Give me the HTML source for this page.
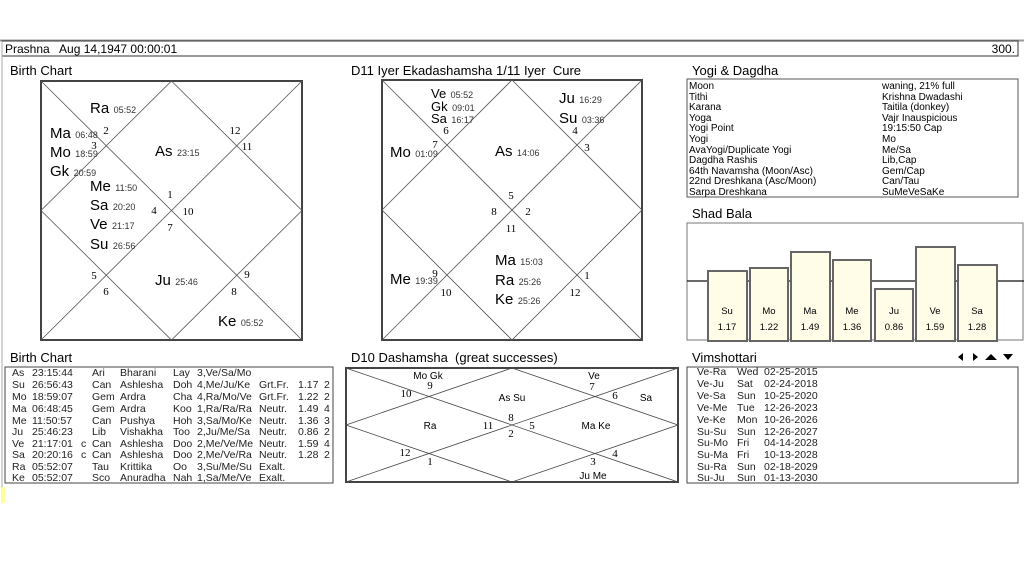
<!DOCTYPE html>
<html><head><meta charset="utf-8"><style>
html,body{margin:0;padding:0;background:#fff;}
svg{display:block;font-family:"Liberation Sans",sans-serif;}
text{white-space:pre;}
.t{font-size:13px;fill:#000;}
.pl{font-size:15px;}
.dg{font-size:9px;fill:#333;}
.n{font-family:"Liberation Serif",serif;font-size:11px;}
.s{font-size:10px;}
.r{font-size:10.5px;fill:#222;}
</style></head><body>
<svg width="1024" height="576" viewBox="0 0 1024 576" xml:space="preserve">
<rect width="1024" height="576" fill="#fff"/>
<line x1="0" y1="40.5" x2="1024" y2="40.5" stroke="#999" stroke-width="2"/>
<rect x="2" y="41" width="1016" height="15" fill="#fff" stroke="#333" stroke-width="1"/>
<line x1="2" y1="41" x2="2" y2="500" stroke="#aaa" stroke-width="1"/>
<rect x="1" y="487" width="4" height="16" fill="#ffff99"/>
<text x="5" y="53" font-size="12">Prashna   Aug 14,1947 00:00:01</text>
<text x="1015" y="53" font-size="12" text-anchor="end">300.</text>

<text x="10" y="75" class="t">Birth Chart</text>
<rect x="41" y="81" width="261" height="259" fill="none" stroke="#444" stroke-width="2"/>
<g stroke="#555" stroke-width="0.8" fill="none">
<line x1="41" y1="81" x2="302" y2="340"/><line x1="302" y1="81" x2="41" y2="340"/>
<polygon points="171.5,81 302,210.5 171.5,340 41,210.5"/>
</g>
<g>
<text x="90" y="113"><tspan class="pl">Ra</tspan> <tspan class="dg">05:52</tspan></text>
<text x="50" y="138"><tspan class="pl">Ma</tspan> <tspan class="dg">06:48</tspan></text>
<text x="50" y="157"><tspan class="pl">Mo</tspan> <tspan class="dg">18:59</tspan></text>
<text x="50" y="176"><tspan class="pl">Gk</tspan> <tspan class="dg">20:59</tspan></text>
<text x="90" y="191"><tspan class="pl">Me</tspan> <tspan class="dg">11:50</tspan></text>
<text x="90" y="210"><tspan class="pl">Sa</tspan> <tspan class="dg">20:20</tspan></text>
<text x="90" y="229"><tspan class="pl">Ve</tspan> <tspan class="dg">21:17</tspan></text>
<text x="90" y="249"><tspan class="pl">Su</tspan> <tspan class="dg">26:56</tspan></text>
<text x="155" y="156"><tspan class="pl">As</tspan> <tspan class="dg">23:15</tspan></text>
<text x="155" y="285"><tspan class="pl">Ju</tspan> <tspan class="dg">25:46</tspan></text>
<text x="218" y="326"><tspan class="pl">Ke</tspan> <tspan class="dg">05:52</tspan></text>
</g>
<g class="n" text-anchor="middle">
<text x="106" y="134">2</text><text x="94" y="149">3</text><text x="235" y="134">12</text><text x="247" y="150">11</text>
<text x="170" y="198">1</text><text x="154" y="214">4</text><text x="188" y="215">10</text><text x="170" y="231">7</text>
<text x="94" y="279">5</text><text x="106" y="295">6</text><text x="247" y="278">9</text><text x="234" y="295">8</text>
</g>

<text x="351" y="75" class="t">D11 Iyer Ekadashamsha 1/11 Iyer  Cure</text>
<rect x="382" y="80" width="260" height="260" fill="none" stroke="#444" stroke-width="2"/>
<g stroke="#555" stroke-width="0.8" fill="none">
<line x1="382" y1="80" x2="642" y2="340"/><line x1="642" y1="80" x2="382" y2="340"/>
<polygon points="512,80 642,210 512,340 382,210"/>
</g>
<text x="431" y="98"><tspan font-size="13">Ve</tspan> <tspan class="dg">05:52</tspan></text>
<text x="431" y="111"><tspan font-size="13">Gk</tspan> <tspan class="dg">09:01</tspan></text>
<text x="431" y="123"><tspan font-size="13">Sa</tspan> <tspan class="dg">16:17</tspan></text>
<text x="390" y="157"><tspan class="pl">Mo</tspan> <tspan class="dg">01:09</tspan></text>
<text x="495" y="156"><tspan class="pl">As</tspan> <tspan class="dg">14:06</tspan></text>
<text x="559" y="103"><tspan class="pl">Ju</tspan> <tspan class="dg">16:29</tspan></text>
<text x="559" y="123"><tspan class="pl">Su</tspan> <tspan class="dg">03:36</tspan></text>
<text x="495" y="265"><tspan class="pl">Ma</tspan> <tspan class="dg">15:03</tspan></text>
<text x="495" y="285"><tspan class="pl">Ra</tspan> <tspan class="dg">25:26</tspan></text>
<text x="495" y="304"><tspan class="pl">Ke</tspan> <tspan class="dg">25:26</tspan></text>
<text x="390" y="284"><tspan class="pl">Me</tspan> <tspan class="dg">19:39</tspan></text>
<g class="n" text-anchor="middle">
<text x="446" y="134">6</text><text x="435" y="148">7</text><text x="575" y="134">4</text><text x="587" y="151">3</text>
<text x="511" y="199">5</text><text x="494" y="215">8</text><text x="528" y="215">2</text><text x="511" y="232">11</text>
<text x="435" y="277">9</text><text x="446" y="296">10</text><text x="587" y="279">1</text><text x="575" y="296">12</text>
</g>

<text x="692" y="75" class="t">Yogi &amp; Dagdha</text>
<rect x="687" y="79" width="331" height="118" fill="none" stroke="#555" stroke-width="1"/>
<g class="s">
<text x="689" y="89">Moon</text><text x="882" y="89">waning, 21% full</text>
<text x="689" y="100">Tithi</text><text x="882" y="100">Krishna Dwadashi</text>
<text x="689" y="110">Karana</text><text x="882" y="110">Taitila (donkey)</text>
<text x="689" y="121">Yoga</text><text x="882" y="121">Vajr Inauspicious</text>
<text x="689" y="131">Yogi Point</text><text x="882" y="131">19:15:50 Cap</text>
<text x="689" y="142">Yogi</text><text x="882" y="142">Mo</text>
<text x="689" y="153">AvaYogi/Duplicate Yogi</text><text x="882" y="153">Me/Sa</text>
<text x="689" y="163">Dagdha Rashis</text><text x="882" y="163">Lib,Cap</text>
<text x="689" y="174">64th Navamsha (Moon/Asc)</text><text x="882" y="174">Gem/Cap</text>
<text x="689" y="184">22nd Dreshkana (Asc/Moon)</text><text x="882" y="184">Can/Tau</text>
<text x="689" y="195">Sarpa Dreshkana</text><text x="882" y="195">SuMeVeSaKe</text>
</g>

<text x="692" y="218" class="t">Shad Bala</text>
<rect x="687" y="223" width="336" height="117" fill="none" stroke="#777" stroke-width="1"/>
<line x1="687" y1="281" x2="1024" y2="281" stroke="#111" stroke-width="1.2"/>
<g fill="#fffde8" stroke="#666" stroke-width="2">
<rect x="708" y="271" width="39" height="70"/>
<rect x="750" y="268" width="38" height="73"/>
<rect x="791" y="252" width="39" height="89"/>
<rect x="833" y="260" width="38" height="81"/>
<rect x="875" y="289" width="38" height="52"/>
<rect x="916" y="247" width="39" height="94"/>
<rect x="958" y="265" width="39" height="76"/>
</g>
<g font-size="9.5" text-anchor="middle">
<text x="727" y="314">Su</text><text x="727" y="330">1.17</text>
<text x="769" y="314">Mo</text><text x="769" y="330">1.22</text>
<text x="810" y="314">Ma</text><text x="810" y="330">1.49</text>
<text x="852" y="314">Me</text><text x="852" y="330">1.36</text>
<text x="894" y="314">Ju</text><text x="894" y="330">0.86</text>
<text x="935" y="314">Ve</text><text x="935" y="330">1.59</text>
<text x="977" y="314">Sa</text><text x="977" y="330">1.28</text>
</g>

<text x="10" y="362" class="t">Birth Chart</text>
<rect x="5" y="367" width="328" height="116" fill="none" stroke="#444" stroke-width="1"/>
<g class="r">
<g transform="translate(0,376)"><text x="12">As</text><text x="32">23:15:44</text><text x="92">Ari</text><text x="120">Bharani</text><text x="173">Lay</text><text x="197">3,Ve/Sa/Mo</text></g>
<g transform="translate(0,388)"><text x="12">Su</text><text x="32">26:56:43</text><text x="92">Can</text><text x="120">Ashlesha</text><text x="173">Doh</text><text x="197">4,Me/Ju/Ke</text><text x="259">Grt.Fr.</text><text x="298">1.17</text><text x="324">2</text></g>
<g transform="translate(0,400)"><text x="12">Mo</text><text x="32">18:59:07</text><text x="92">Gem</text><text x="120">Ardra</text><text x="173">Cha</text><text x="197">4,Ra/Mo/Ve</text><text x="259">Grt.Fr.</text><text x="298">1.22</text><text x="324">2</text></g>
<g transform="translate(0,412)"><text x="12">Ma</text><text x="32">06:48:45</text><text x="92">Gem</text><text x="120">Ardra</text><text x="173">Koo</text><text x="197">1,Ra/Ra/Ra</text><text x="259">Neutr.</text><text x="298">1.49</text><text x="324">4</text></g>
<g transform="translate(0,424)"><text x="12">Me</text><text x="32">11:50:57</text><text x="92">Can</text><text x="120">Pushya</text><text x="173">Hoh</text><text x="197">3,Sa/Mo/Ke</text><text x="259">Neutr.</text><text x="298">1.36</text><text x="324">3</text></g>
<g transform="translate(0,435)"><text x="12">Ju</text><text x="32">25:46:23</text><text x="92">Lib</text><text x="120">Vishakha</text><text x="173">Too</text><text x="197">2,Ju/Me/Sa</text><text x="259">Neutr.</text><text x="298">0.86</text><text x="324">2</text></g>
<g transform="translate(0,447)"><text x="12">Ve</text><text x="32">21:17:01</text><text x="81">c</text><text x="92">Can</text><text x="120">Ashlesha</text><text x="173">Doo</text><text x="197">2,Me/Ve/Me</text><text x="259">Neutr.</text><text x="298">1.59</text><text x="324">4</text></g>
<g transform="translate(0,458)"><text x="12">Sa</text><text x="32">20:20:16</text><text x="81">c</text><text x="92">Can</text><text x="120">Ashlesha</text><text x="173">Doo</text><text x="197">2,Me/Ve/Ra</text><text x="259">Neutr.</text><text x="298">1.28</text><text x="324">2</text></g>
<g transform="translate(0,470)"><text x="12">Ra</text><text x="32">05:52:07</text><text x="92">Tau</text><text x="120">Krittika</text><text x="173">Oo</text><text x="197">3,Su/Me/Su</text><text x="259">Exalt.</text></g>
<g transform="translate(0,481)"><text x="12">Ke</text><text x="32">05:52:07</text><text x="92">Sco</text><text x="120">Anuradha</text><text x="173">Nah</text><text x="197">1,Sa/Me/Ve</text><text x="259">Exalt.</text></g>
</g>

<text x="351" y="362" class="t">D10 Dashamsha  (great successes)</text>
<rect x="346" y="368" width="332" height="114" fill="none" stroke="#444" stroke-width="2"/>
<g stroke="#444" stroke-width="0.8" fill="none">
<line x1="346" y1="368" x2="678" y2="482"/><line x1="678" y1="368" x2="346" y2="482"/>
<polygon points="512,368 678,425 512,482 346,425"/>
</g>
<g font-size="10" text-anchor="middle">
<text x="428" y="379">Mo Gk</text><text x="512" y="401">As Su</text><text x="594" y="379">Ve</text><text x="646" y="401">Sa</text>
<text x="430" y="429">Ra</text><text x="596" y="429">Ma Ke</text><text x="593" y="479">Ju Me</text>
</g>
<g class="n" font-size="10" text-anchor="middle">
<text x="430" y="389">9</text><text x="406" y="397">10</text><text x="511" y="421">8</text><text x="488" y="429">11</text>
<text x="532" y="429">5</text><text x="511" y="437">2</text><text x="592" y="390">7</text><text x="615" y="399">6</text>
<text x="405" y="456">12</text><text x="430" y="465">1</text><text x="615" y="457">4</text><text x="593" y="465">3</text>
</g>

<text x="692" y="362" class="t">Vimshottari</text>
<g fill="#000">
<polygon points="958,357 963,353 963,361"/><polygon points="973,353 978,357 973,361"/>
<polygon points="985,360 991,354 997,360"/><polygon points="1003,354 1013,354 1008,360"/>
</g>
<rect x="687" y="367" width="331" height="116" fill="none" stroke="#444" stroke-width="1"/>
<g class="r">
<g transform="translate(0,375)"><text x="697">Ve-Ra</text><text x="737">Wed</text><text x="764">02-25-2015</text></g>
<g transform="translate(0,387)"><text x="697">Ve-Ju</text><text x="737">Sat</text><text x="764">02-24-2018</text></g>
<g transform="translate(0,399)"><text x="697">Ve-Sa</text><text x="737">Sun</text><text x="764">10-25-2020</text></g>
<g transform="translate(0,411)"><text x="697">Ve-Me</text><text x="737">Tue</text><text x="764">12-26-2023</text></g>
<g transform="translate(0,423)"><text x="697">Ve-Ke</text><text x="737">Mon</text><text x="764">10-26-2026</text></g>
<g transform="translate(0,435)"><text x="697">Su-Su</text><text x="737">Sun</text><text x="764">12-26-2027</text></g>
<g transform="translate(0,446)"><text x="697">Su-Mo</text><text x="737">Fri</text><text x="764">04-14-2028</text></g>
<g transform="translate(0,458)"><text x="697">Su-Ma</text><text x="737">Fri</text><text x="764">10-13-2028</text></g>
<g transform="translate(0,470)"><text x="697">Su-Ra</text><text x="737">Sun</text><text x="764">02-18-2029</text></g>
<g transform="translate(0,481)"><text x="697">Su-Ju</text><text x="737">Sun</text><text x="764">01-13-2030</text></g>
</g>
</svg>
</body></html>
